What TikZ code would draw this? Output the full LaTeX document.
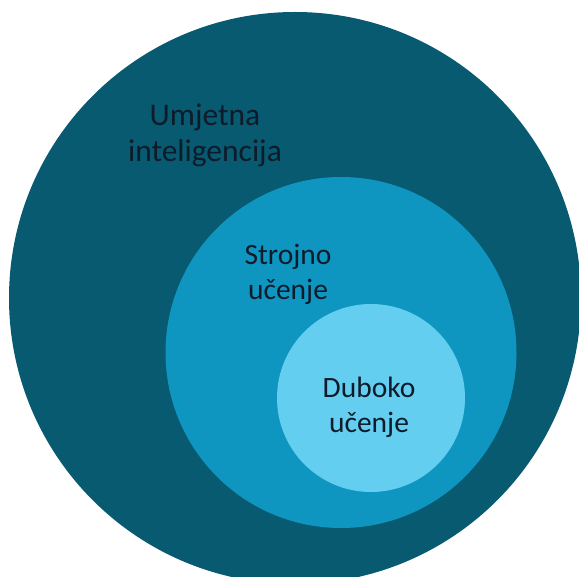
\documentclass[tikz,border=0pt]{standalone}
\usepackage{fontspec}
\setmainfont{Carlito}
\definecolor{outerc}{HTML}{075A70}
\definecolor{midc}{HTML}{0E96C1}
\definecolor{innerc}{HTML}{63CEEF}
\definecolor{txtc}{HTML}{0E1B2B}
\tikzset{
  setc/.style={circle, inner sep=0pt, minimum size=#1},
  lbl/.style={align=center, inner sep=0pt, text=txtc,
    font=\fontsize{29.5}{35}\selectfont},
  biglbl/.style={lbl, font=\fontsize{31.5}{36}\selectfont}
}
\begin{document}
\begin{tikzpicture}[x=1pt,y=-1pt]
\useasboundingbox (0,0) rectangle (579,577);
\fill[white] (0,0) rectangle (579,577);
\node[setc=572pt, fill=outerc] (ai) at (295,298) {};
\node[setc=351pt, fill=midc] (ml) at (341,352.5) {};
\node[setc=188pt, fill=innerc] (dl) at (371,398) {};
\node[biglbl] (tai) at (205,135) {Umjetna\\inteligencija};
\node[lbl] (tml) at (288,274) {Strojno\\učenje};
\node[lbl] (tdl) at (369,407) {Duboko\\učenje};
\end{tikzpicture}
\end{document}
